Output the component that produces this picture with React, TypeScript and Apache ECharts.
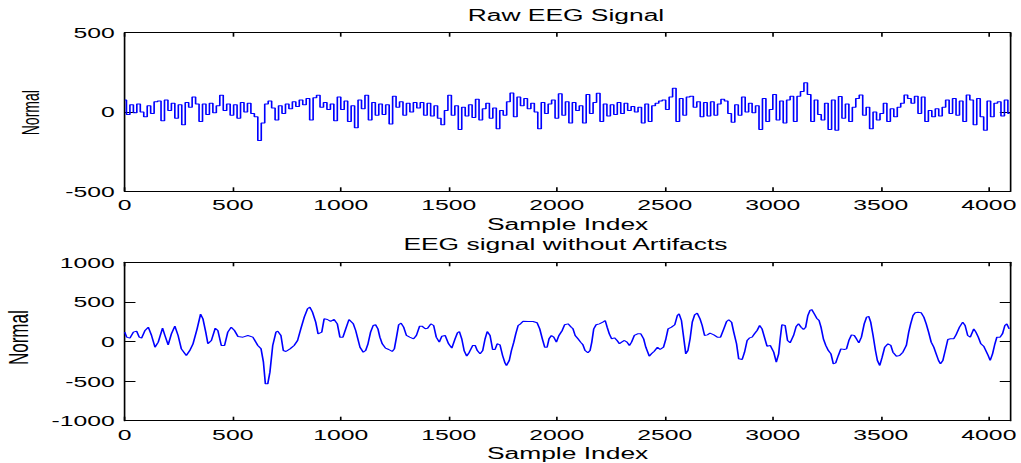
import React, { useEffect, useRef } from "react";
import * as echarts from "echarts";

// ---- data ----
const RAW_STEP = 16; // sample spacing of the raw trace values below
const rawValues = [
  76, -15, 45, -5, 50, 0, -30, 40, -10, 65, 70, -55, 75, 10, 55, -40, 45, -80, 60, 30,
  95, 50, -60, 50, -15, 55, -5, 40, 105, 10, 50, -20, 45, -40, 60, 0, 55, -10, -30, -180,
  -70, 50, 70, 25, -50, 40, -10, 50, 20, 65, 35, 75, 45, 85, -50, 90, 105, 30, 60, 15,
  50, -55, 95, 15, 70, -60, 40, -100, 75, 20, 105, -50, 60, -20, 50, -15, 45, -75, 100, 30,
  65, -20, 55, 0, 60, 25, 60, -20, 55, -25, 40, -40, -80, 10, 105, -20, 40, -110, 30, -25,
  45, -35, 80, -50, 20, 55, -40, 25, -105, 10, -20, 65, 120, -30, 95, 40, 85, 20, 55, 0,
  -105, 60, -10, 50, 75, -40, 115, -20, 65, -70, 60, 10, 40, -70, 110, -10, 60, 118, -60, 50,
  -25, 45, -15, 60, -10, 55, 10, 35, 0, 30, -70, 50, -60, 40, 55, 70, 75, 15, 95, 150,
  -60, 85, -20, 95, 100, 30, 65, -30, 60, -25, 65, -20, 50, 80, 70, -10, -65, 45, -20, 95,
  0, 55, -5, 40, -110, 85, -60, 15, 110, -50, 70, -70, 75, 100, -60, 100, 130, 185, 110, -60,
  75, -15, -50, 55, -110, 75, -115, 97, -40, 50, -60, 30, 85, 107, -20, 30, -105, 0, -50, -10,
  55, -60, 20, -30, 30, 55, 107, 85, 55, 100, -10, 95, -60, 10, -30, 20, -25, 30, 75, -10,
  85, -20, 70, -60, 107, 75, -80, 85, -30, -115, 70, -30, 55, 65, -25, 75, -10,
];

const cleanX = [
  0, 9, 24, 40, 55, 67, 78, 94, 109, 124, 140, 155, 175, 186, 201, 216, 232, 247, 262, 285,
  301, 316, 335, 351, 362, 375, 385, 401, 419, 431, 447, 462, 477, 493, 508, 524, 547, 570, 593, 616,
  631, 642, 651, 662, 672, 685, 700, 708, 723, 734, 746, 765, 784, 800, 815, 831, 846, 857, 869, 884,
  895, 912, 923, 938, 953, 969, 984, 996, 1010, 1023, 1038,
  1058, 1069, 1079, 1089, 1104, 1115, 1126, 1138, 1150, 1161, 1172, 1181, 1192, 1207, 1222, 1238, 1248, 1258, 1268, 1279,
  1291, 1304, 1319, 1337, 1350, 1365, 1376, 1391, 1402, 1417, 1430, 1442, 1456, 1468, 1483, 1499, 1514, 1529, 1540, 1549,
  1560, 1571, 1583, 1595, 1611, 1622, 1632, 1645, 1657, 1668, 1678, 1691, 1703, 1714, 1724, 1737, 1749, 1760, 1767, 1780,
  1790, 1801, 1810, 1821, 1832, 1844, 1867, 1890, 1909, 1921, 1933, 1944, 1955, 1964, 1975, 1986, 1998, 2010, 2025, 2036,
  2052, 2067,
  2075, 2085, 2098, 2110, 2121, 2131, 2144, 2154, 2162, 2171, 2182, 2197, 2213, 2224, 2233, 2243, 2254, 2267, 2279, 2290,
  2300, 2313, 2325, 2336, 2346, 2359, 2374, 2389, 2402, 2412, 2428, 2438, 2451, 2466, 2478, 2494, 2505, 2515, 2531, 2546,
  2558, 2566, 2577, 2586, 2597, 2607, 2617, 2627, 2638, 2650, 2663, 2673, 2684, 2697, 2709, 2727, 2743, 2758, 2773, 2786,
  2796, 2809, 2819, 2832, 2842, 2858, 2869, 2881, 2893, 2904, 2915, 2927, 2939, 2950, 2961, 2973, 2988, 3004, 3016, 3027,
  3034, 3042, 3057, 3068, 3080, 3096, 3108,
  3119, 3131, 3142, 3152, 3162, 3172, 3180, 3192, 3203, 3214, 3223, 3234, 3245, 3257, 3269, 3280, 3291, 3303, 3315, 3331,
  3341, 3352, 3364, 3377, 3387, 3398, 3410, 3423, 3434, 3444, 3453, 3464, 3475, 3484, 3495, 3506, 3518, 3533, 3546, 3556,
  3572, 3587, 3602, 3618, 3629, 3638, 3649, 3659, 3672, 3687, 3699, 3710, 3721, 3733, 3745, 3756, 3767, 3776, 3787, 3798,
  3810, 3822, 3837, 3848, 3864, 3879, 3890, 3902, 3914, 3930, 3940, 3951, 3963, 3976, 3986, 3997, 4006, 4017, 4028, 4037,
  4052, 4063, 4074, 4083, 4094,
];
const cleanY = [
  118, 55, 42, 118, 131, 55, 42, 139, 181, 76, -72, -8, 168, 76, -42, 97, 194, 76, -93, -177,
  -114, -29, 160, 345, 286, 118, -29, 13, 168, 139, -50, -50, 118, 181, 139, 63, 55, 76, 55, -50,
  -93, -261, -535, -535, -387, -50, 118, 131, 76, -114, -126, -93, -50, 13, 160, 307, 413, 434, 370, 244,
  97, 118, 286, 278, 253, 278, 223, 55, 55, 160, 278,
  223, 139, 34, -72, -135, -114, -29, 118, 202, 211, 160, 55, -29, -84, -101, -126, -93, 55, 211, 232,
  181, 76, 55, 34, 76, 194, 194, 160, 168, 223, 202, 55, -8, 67, 76, -29, -84, 34, 110, 126,
  34, -114, -185, -135, -50, -50, -114, -156, -114, 34, 126, 76, -101, -101, -29, -42, -177, -269, -303, -240,
  -114, -8, 97, 202, 223, 257, 253, 253, 236, 160, 34, -72, -72, 34, 76, 55, -8, 76, 139, 211,
  223, 181,
  160, 76, 34, -8, -42, -114, -143, -114, -8, 160, 211, 223, 244, 265, 181, 97, 34, 46, 13, -29,
  -8, 13, -8, -50, -8, 76, 97, 97, 34, -72, -185, -156, -122, -72, -101, -72, 34, 160, 181, 211,
  328, 349, 265, 76, -156, -114, 34, 244, 337, 358, 286, 202, 76, 84, 105, 84, 55, 55, 160, 253,
  274, 244, 118, -29, -219, -227, -135, 13, 46, 55, 97, 139, 202, 160, 55, -59, -50, -135, -261, -156,
  34, 211, 202, 13, -17, 76, 189,
  223, 181, 152, 181, 328, 392, 404, 349, 295, 265, 181, 34, -50, -114, -156, -282, -269, -177, -93, -101,
  -93, 13, 84, 76, 34, -17, 55, 223, 307, 316, 244, 76, -114, -240, -303, -198, -72, -29, -50, -135,
  -185, -177, -135, -50, 118, 223, 328, 362, 370, 362, 307, 223, 118, -8, -72, -156, -240, -282, -240, -114,
  25, 34, 34, 84, 181, 244, 202, 76, 55, 160, 118, 55, -29, -59, -114, -177, -240, -156, -29, 55,
  55, 97, 202, 223, 160,
];

const titles = ["Raw EEG Signal", "EEG signal without Artifacts"];
const xAxisLabel = "Sample Index";
const yAxisLabel = "Normal";
const xRange = [0, 4100];
const xInterval = 500;
const rawYRange = [-500, 500];
const cleanYRange = [-1000, 1000];
const yInterval = 500;

// ---- layout ----
const STRETCH = 1.65; // the reference is stretched horizontally
const W = 619;
const H = 463;
const FONT = "'Liberation Sans', Arial, sans-serif";
const BLUE = "#0000ff";
const plain = (v: number) => String(v);

function axisPair(gridIndex: number, withName: boolean) {
  const base = {
    gridIndex,
    type: "value" as const,
    min: xRange[0],
    max: xRange[1],
    interval: xInterval,
    splitLine: { show: false },
    axisLine: { show: true, onZero: false, lineStyle: { color: "#000", width: 1 } },
    axisTick: { show: true, inside: true, length: 4, lineStyle: { color: "#000", width: 1 } },
  };
  return [
    {
      ...base,
      position: "bottom",
      axisLabel: {
        show: true,
        margin: 6,
        fontSize: 15,
        color: "#000",
        fontFamily: FONT,
        showMaxLabel: false,
        formatter: plain,
      },
      name: withName ? xAxisLabel : "",
      nameLocation: "middle",
      nameGap: 25,
      nameMoveOverlap: false,
      nameTextStyle: { fontSize: 16, color: "#000", fontFamily: FONT },
    },
    { ...base, position: "top", axisLabel: { show: false } },
  ];
}

function yPair(gridIndex: number, range: number[]) {
  const base = {
    gridIndex,
    type: "value" as const,
    min: range[0],
    max: range[1],
    interval: yInterval,
    splitLine: { show: false },
    axisLine: { show: true, onZero: false, lineStyle: { color: "#000", width: 1 } },
    axisTick: { show: true, inside: true, length: 6.5, lineStyle: { color: "#000", width: 1 } },
  };
  return [
    {
      ...base,
      position: "left",
      axisLabel: {
        show: true,
        margin: 6,
        fontSize: 15,
        color: "#000",
        fontFamily: FONT,
        formatter: plain,
      },
    },
    { ...base, position: "right", axisLabel: { show: false } },
  ];
}

export default function App() {
  const ref = useRef<HTMLDivElement>(null);

  useEffect(() => {
    if (!ref.current) return;
    const chart = echarts.init(ref.current, null, { renderer: "svg", width: W, height: H });
    const rawData = rawValues.map((v, i) => [i * RAW_STEP, v]);
    const cleanData = cleanX.map((x, i) => [x, cleanY[i]]);

    chart.setOption({
      animation: false,
      backgroundColor: "#ffffff",
      grid: [
        { left: 75.6, right: 3.5, top: 32.7, height: 158.6, containLabel: false },
        { left: 75.6, right: 3.5, top: 262.3, height: 158.4, containLabel: false },
      ],
      xAxis: [...axisPair(0, true), ...axisPair(1, true)],
      yAxis: [...yPair(0, rawYRange), ...yPair(1, cleanYRange)],
      series: [
        {
          type: "line",
          xAxisIndex: 0,
          yAxisIndex: 0,
          data: rawData,
          step: "middle",
          showSymbol: false,
          symbol: "none",
          lineStyle: { color: BLUE, width: 1 },
          itemStyle: { color: BLUE },
        },
        {
          type: "line",
          xAxisIndex: 2,
          yAxisIndex: 2,
          data: cleanData,
          showSymbol: false,
          symbol: "none",
          lineStyle: { color: BLUE, width: 1 },
          itemStyle: { color: BLUE },
        },
      ],
      graphic: [
        {
          type: "text",
          x: 343,
          y: 15.9,
          style: {
            text: titles[0],
            fill: "#000",
            fontSize: 16,
            fontFamily: FONT,
            align: "center",
            verticalAlign: "middle",
          },
        },
        {
          type: "text",
          x: 342.7,
          y: 244.2,
          style: {
            text: titles[1],
            fill: "#000",
            fontSize: 16,
            fontFamily: FONT,
            align: "center",
            verticalAlign: "middle",
          },
        },
        {
          type: "text",
          x: 18.8,
          y: 112.7,
          rotation: Math.PI / 2,
          style: {
            text: yAxisLabel,
            fill: "#000",
            fontSize: 14,
            fontFamily: FONT,
            align: "center",
            verticalAlign: "middle",
          },
        },
        {
          type: "text",
          x: 10.9,
          y: 337.7,
          rotation: Math.PI / 2,
          style: {
            text: yAxisLabel,
            fill: "#000",
            fontSize: 17,
            fontFamily: FONT,
            align: "center",
            verticalAlign: "middle",
          },
        },
      ],
    });

    return () => chart.dispose();
  }, []);

  return (
    <div
      style={{
        position: "fixed",
        left: 0,
        top: 0,
        width: W * STRETCH,
        height: H,
        overflow: "hidden",
        background: "#fff",
      }}
    >
      <div
        ref={ref}
        style={{
          width: W,
          height: H,
          transform: `scaleX(${STRETCH})`,
          transformOrigin: "0 0",
        }}
      />
    </div>
  );
}
